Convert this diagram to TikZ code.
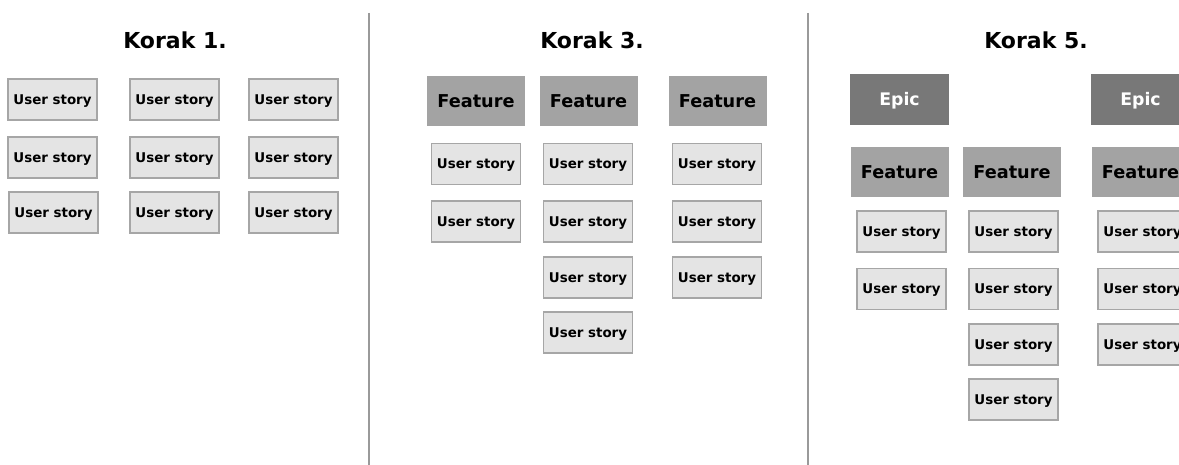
\documentclass[tikz,border=0pt]{standalone}
\usepackage{fontspec}
\setmainfont{DejaVu Sans}
\definecolor{usfill}{HTML}{E4E4E4}
\definecolor{usline}{HTML}{A6A6A6}
\definecolor{featfill}{HTML}{A3A3A3}
\definecolor{epicfill}{HTML}{787878}
\definecolor{divline}{HTML}{9A9A9A}
\begin{document}
\begin{tikzpicture}[x=1pt,y=-1pt,
  us/.style={draw=usline, fill=usfill, line width=1.1pt, font=\bfseries\fontsize{13.4}{16}\selectfont, inner sep=0pt, text height=9.8pt, text depth=0pt, minimum width=89pt, minimum height=41pt},
  feat/.style={fill=featfill, font=\bfseries\fontsize{17.7}{20}\selectfont, inner sep=0pt, text height=12.9pt, text depth=0pt, minimum width=98pt, minimum height=50pt},
  epic/.style={fill=epicfill, text=white, font=\bfseries\fontsize{17.3}{20}\selectfont, inner sep=0pt, text height=12.6pt, text depth=0pt, minimum width=99pt, minimum height=51pt},
  ttl/.style={font=\bfseries\fontsize{22}{26}\selectfont, anchor=base, inner sep=0pt},
  divider/.style={draw=divline, line width=2.5pt}]
\useasboundingbox (0,0) rectangle (1179,465);
\clip (0,0) rectangle (1179,465);
% dividers
\coordinate (d1t) at (369,13); \coordinate (d1b) at (369,465);
\coordinate (d2t) at (808,13); \coordinate (d2b) at (808,465);
\draw[divider] (d1t) -- (d1b);
\draw[divider] (d2t) -- (d2b);
% titles
\node[ttl] (t1) at (175,49) {Korak 1.};
\node[ttl] (t3) at (592,49) {Korak 3.};
\node[ttl] (t5) at (1036,49) {Korak 5.};
% section 1
\node[us] (a11) at (52.5,99.5) {User story};
\node[us] (a12) at (174.5,99.5) {User story};
\node[us] (a13) at (293.5,99.5) {User story};
\node[us] (a21) at (52.5,157.5) {User story};
\node[us] (a22) at (174.5,157.5) {User story};
\node[us] (a23) at (293.5,157.5) {User story};
\node[us] (a31) at (53.5,212.5) {User story};
\node[us] (a32) at (174.5,212.5) {User story};
\node[us] (a33) at (293.5,212.5) {User story};
% section 3
\node[feat] (bf1) at (476,101) {Feature};
\node[feat] (bf2) at (588.5,101) {Feature};
\node[feat] (bf3) at (717.5,101) {Feature};
\node[us] (b11) at (476,164) {User story};
\node[us] (b21) at (476,221.5) {User story};
\node[us] (b12) at (588,164) {User story};
\node[us] (b22) at (588,221.5) {User story};
\node[us] (b32) at (588,277.5) {User story};
\node[us] (b42) at (588,332.5) {User story};
\node[us] (b13) at (717,164) {User story};
\node[us] (b23) at (717,221.5) {User story};
\node[us] (b33) at (717,277.5) {User story};
% section 5
\node[epic] (ce1) at (899.5,99.5) {Epic};
\node[epic] (ce2) at (1140.5,99.5) {Epic};
\node[feat] (cf1) at (899.5,172) {Feature};
\node[feat] (cf2) at (1012,172) {Feature};
\node[feat] (cf3) at (1140.5,172) {Feature};
\node[us] (c11) at (901.5,231.5) {User story};
\node[us] (c21) at (901.5,289) {User story};
\node[us] (c12) at (1013.5,231.5) {User story};
\node[us] (c22) at (1013.5,289) {User story};
\node[us] (c32) at (1013.5,344.5) {User story};
\node[us] (c42) at (1013.5,399.5) {User story};
\node[us] (c13) at (1142.5,231.5) {User story};
\node[us] (c23) at (1142.5,289) {User story};
\node[us] (c33) at (1142.5,344.5) {User story};
\end{tikzpicture}
\end{document}
